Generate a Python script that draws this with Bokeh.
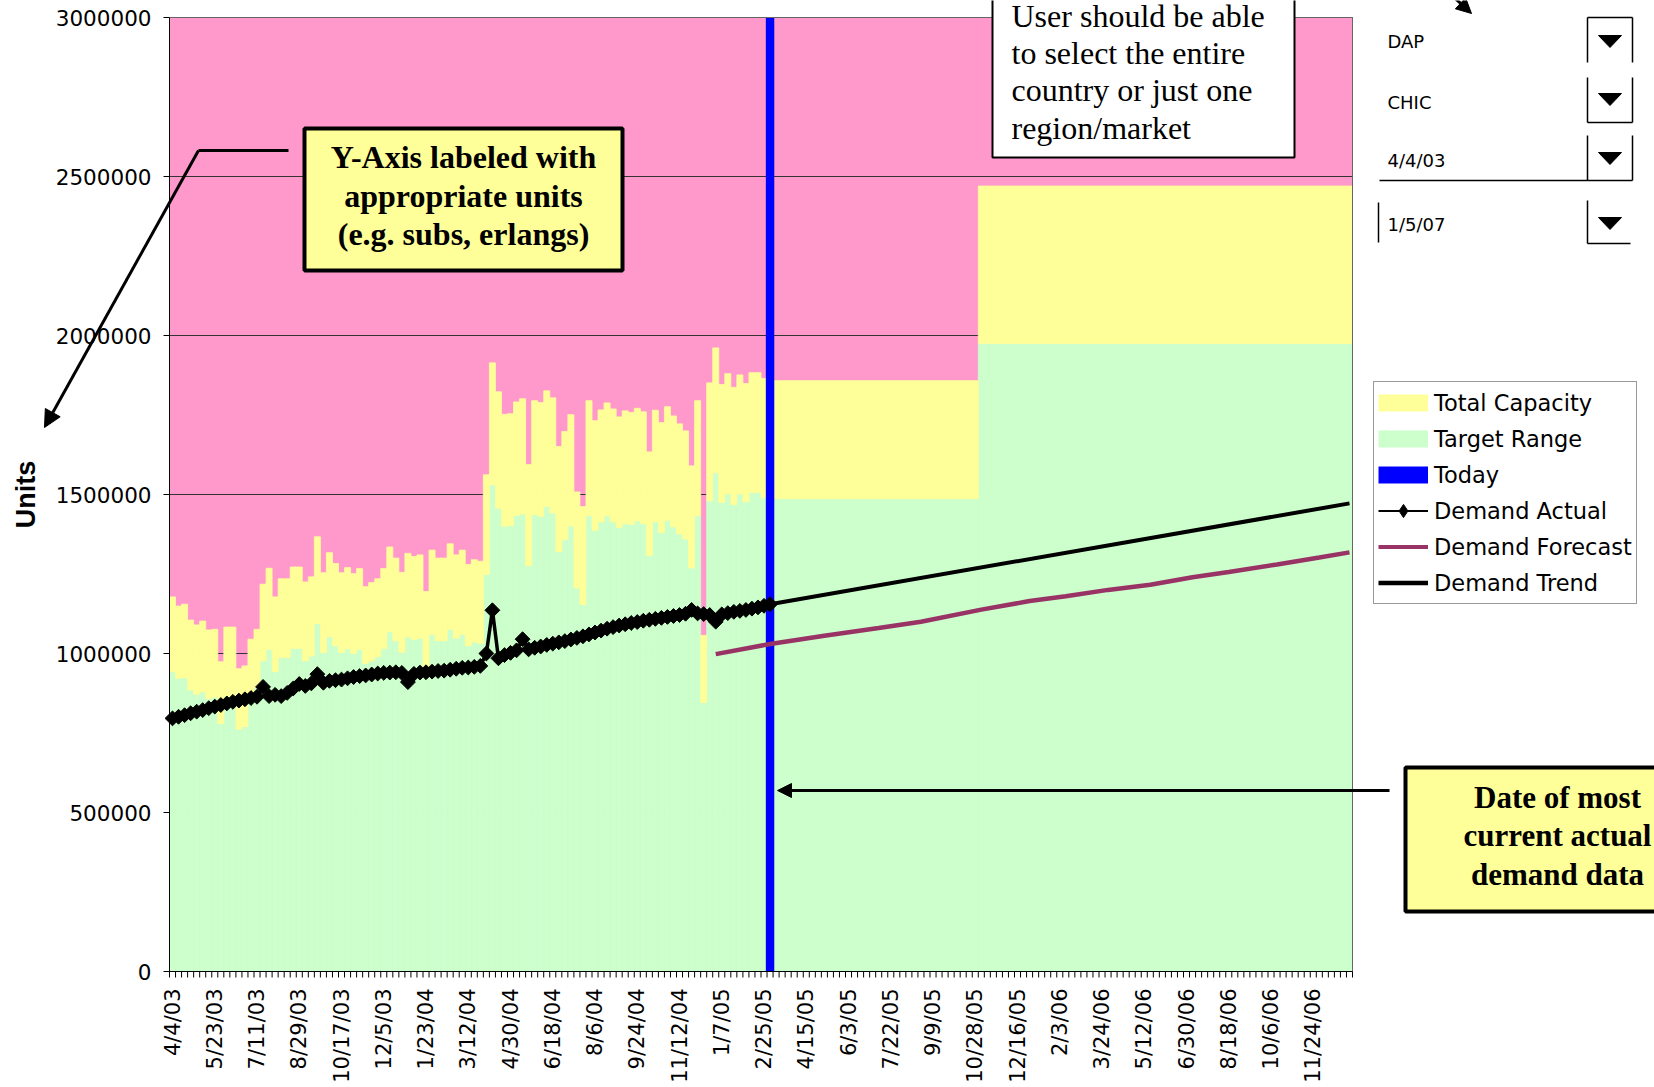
import math
from bokeh.plotting import figure
from bokeh.models import (Legend, LegendItem, Label, Arrow, NormalHead,
                          BoxAnnotation, PolyAnnotation, Range1d)
from bokeh.core.properties import value
from bokeh.embed import file_html
from bokeh.resources import INLINE

# ---------------- data ----------------
week_labels = ["4/4/03", "5/23/03", "7/11/03", "8/29/03", "10/17/03", "12/5/03",
               "1/23/04", "3/12/04", "4/30/04", "6/18/04", "8/6/04", "9/24/04",
               "11/12/04", "1/7/05", "2/25/05", "4/15/05", "6/3/05", "7/22/05",
               "9/9/05", "10/28/05", "12/16/05", "2/3/06", "3/24/06", "5/12/06",
               "6/30/06", "8/18/06", "10/6/06", "11/24/06"]
label_every = 7
n_weeks = 196

# weekly history (weeks 0..99): top of total capacity and of target range
capacity_hist = [1178000, 1149000, 1155000, 1105000, 1090000, 1102000, 1074000, 1076000, 974000, 1083000,
                 1083000, 952000, 961000, 1045000, 1076000, 1218000, 1268000, 1178000, 1235000, 1235000,
                 1272000, 1272000, 1225000, 1241000, 1367000, 1254000, 1317000, 1283000, 1254000, 1270000,
                 1251000, 1267000, 1210000, 1223000, 1235000, 1267000, 1335000, 1300000, 1255000, 1315000,
                 1305000, 1310000, 1195000, 1325000, 1300000, 1300000, 1345000, 1310000, 1325000, 1280000,
                 1295000, 1290000, 1562000, 1914000, 1823000, 1752000, 1754000, 1791000, 1801000, 1594000,
                 1795000, 1789000, 1826000, 1804000, 1651000, 1698000, 1751000, 1508000, 1462000, 1795000,
                 1732000, 1766000, 1788000, 1769000, 1744000, 1763000, 1758000, 1771000, 1760000, 1634000,
                 1765000, 1726000, 1776000, 1747000, 1722000, 1700000, 1590000, 1795000, 1057000, 1851000,
                 1961000, 1846000, 1880000, 1837000, 1876000, 1849000, 1883000, 1883000, 1865000, 1865000]
target_hist = [943000, 922000, 924000, 885000, 872000, 880000, 858000, 863000, 780000, 863000,
               863000, 762000, 770000, 870000, 893000, 977000, 1013000, 943000, 987000, 987000,
               1016000, 1016000, 977000, 992000, 1094000, 1003000, 1053000, 1024000, 1003000, 1015000,
               1000000, 1013000, 969000, 977000, 990000, 1015000, 1068000, 1040000, 1004000, 1052000,
               1044000, 1048000, 956000, 1060000, 1040000, 1040000, 1076000, 1048000, 1060000, 1024000,
               1036000, 1032000, 1249000, 1530000, 1457000, 1400000, 1402000, 1434000, 1439000, 1276000,
               1437000, 1431000, 1462000, 1442000, 1320000, 1358000, 1401000, 1206000, 1154000, 1433000,
               1387000, 1414000, 1433000, 1414000, 1396000, 1408000, 1406000, 1417000, 1408000, 1308000,
               1414000, 1380000, 1419000, 1398000, 1376000, 1360000, 1269000, 1433000, 846000, 1480000,
               1568000, 1475000, 1502000, 1468000, 1502000, 1477000, 1506000, 1506000, 1490000, 1490000]
demand_actual = [796000, 801000, 806000, 812000, 817000, 822000, 828000, 833000, 838000, 843000,
                 848000, 852000, 856000, 860000, 864000, 895000, 866000, 870000, 866000, 876000,
                 890000, 904000, 898000, 906000, 935000, 908000, 914000, 916000, 918000, 922000,
                 926000, 929000, 931000, 934000, 937000, 939000, 940000, 941000, 939000, 910000,
                 936000, 940000, 941000, 943000, 945000, 946000, 949000, 952000, 955000, 956000,
                 958000, 961000, 1000000, 1136000, 985000, 995000, 1002000, 1010000, 1045000, 1013000,
                 1018000, 1022000, 1027000, 1031000, 1035000, 1039000, 1044000, 1049000, 1054000, 1060000,
                 1066000, 1072000, 1078000, 1083000, 1088000, 1092000, 1096000, 1099000, 1103000, 1106000,
                 1109000, 1112000, 1115000, 1118000, 1121000, 1125000, 1137000, 1126000, 1124000, 1121000,
                 1100000, 1123000, 1127000, 1131000, 1134000, 1137000, 1141000, 1145000, 1150000, 1155000]

# planned capacity blocks (future)
block_start = [100, 134]
block_end = [134, 196]
block_capacity = [1858000, 2470000]
block_target = [1487000, 1975000]

today_week = 99
today_value = 3000000

forecast_week = [90, 99, 108, 117, 124, 134, 142, 148, 155, 162, 169, 175, 183, 190, 195]
forecast_value = [998000, 1030000, 1056000, 1080000, 1100000, 1138000, 1165000, 1180000,
                  1200000, 1216000, 1240000, 1256000, 1280000, 1302000, 1318000]

trend_week = [99, 195]
trend_value = [1155000, 1472000]

y_max = 3000000
y_ticks = [0, 500000, 1000000, 1500000, 2000000, 2500000, 3000000]

# ---------------- colours ----------------
PINK = "#FF99CC"
YELLOW = "#FFFF99"
GREEN = "#CCFFCC"
BLUE = "#0000FF"
PURPLE = "#993366"

# ---------------- geometry (canvas pixels of the plot area) ----------------
W, H = 1654, 1087
PX0, PX1, PY0, PY1 = 169, 1352, 17, 971
PXW = (PX1 - PX0) / n_weeks          # px per week
PXH = (PY1 - PY0) / y_max            # px per unit
XL, XR = -0.5, n_weeks - 0.5         # data edges of the plot area

p = figure(width=W, height=H, output_backend="svg", toolbar_location=None,
           x_range=Range1d(XL - PX0 / PXW, XR + (W - PX1) / PXW),
           y_range=Range1d(-(H - PY1) / PXH, y_max + PY0 / PXH),
           x_axis_location=None, y_axis_location=None, min_border=0,
           background_fill_color="white", border_fill_color="white",
           outline_line_color=None)
p.grid.visible = False

def ax(xf):
    return (xf - PX0) / PXW - 0.5

def ay(yf):
    return (PY1 - yf) / PXH

def dpx(n):   # n pixels in x data units
    return n / PXW

def dpy(n):   # n pixels in y data units
    return n / PXH

# plot area background and grid
p.quad(left=[XL], right=[XR], bottom=[0], top=[y_max], fill_color=PINK, line_color=None)
p.segment(x0=XL, x1=XR, y0=y_ticks, y1=y_ticks, line_color="#333333", line_width=1)

weeks_hist = list(range(len(capacity_hist)))
p.vbar(x=weeks_hist, width=1, bottom=0, top=target_hist,
       fill_color=GREEN, line_color=GREEN, line_width=0.8)
p.vbar(x=weeks_hist, width=1, bottom=target_hist, top=capacity_hist,
       fill_color=YELLOW, line_color=YELLOW, line_width=0.8)
p.quad(left=[b - 0.5 for b in block_start], right=[b - 0.5 for b in block_end],
       bottom=0, top=block_target, fill_color=GREEN, line_color=GREEN, line_width=0.8)
p.quad(left=[b - 0.5 for b in block_start], right=[b - 0.5 for b in block_end],
       bottom=block_target, top=block_capacity, fill_color=YELLOW, line_color=YELLOW, line_width=0.8)

p.vbar(x=[today_week], width=1.4, bottom=0, top=[today_value], fill_color=BLUE, line_color=None)

p.line(forecast_week, forecast_value, line_color=PURPLE, line_width=4.5)
p.line(trend_week, trend_value, line_color="black", line_width=4)
p.line(weeks_hist, demand_actual, line_color="black", line_width=3.5)
p.scatter(weeks_hist, demand_actual, marker="square", angle=math.pi / 4, size=10.5,
          fill_color="black", line_color="black")

# frame border and axes
p.line([XL, XR, XR], [y_max, y_max, 0], line_color="#666666", line_width=1)
p.line([XL, XL, XR], [y_max, 0, 0], line_color="black", line_width=1)
p.segment(x0=XL - dpx(6), x1=XL, y0=y_ticks, y1=y_ticks, line_color="black", line_width=1)
boundaries = [i - 0.5 for i in range(n_weeks + 1)]
p.segment(x0=boundaries, x1=boundaries, y0=0, y1=-dpy(6), line_color="black", line_width=1)

p.text(x=XL - dpx(18), y=y_ticks, text=[str(t) for t in y_ticks],
       text_align="right", text_baseline="middle", text_font=value("DejaVu Sans"),
       text_font_size=value("21.5px"), text_color="black")
xt = [i * label_every for i in range(len(week_labels))]
p.text(x=xt, y=-dpy(17), text=week_labels, angle=math.pi / 2,
       text_align="right", text_baseline="middle", text_font=value("DejaVu Sans"),
       text_font_size=value("21px"), text_color="black")
p.text(x=[ax(25)], y=[y_max / 2], text=["Units"], angle=math.pi / 2,
       text_align="center", text_baseline="middle", text_font=value("Liberation Sans"),
       text_font_style="bold", text_font_size=value("27px"), text_color="black")

# ---------------- legend ----------------
nan = float("nan")
lg_tc = p.line([nan], [nan], line_color=YELLOW, line_width=17, line_cap="butt")
lg_tr = p.line([nan], [nan], line_color=GREEN, line_width=17, line_cap="butt")
lg_td = p.line([nan], [nan], line_color=BLUE, line_width=17, line_cap="butt")
lg_al = p.line([nan], [nan], line_color="black", line_width=2)
lg_am = p.scatter([nan], [nan], marker="diamond", size=13,
                  fill_color="black", line_color="black")
lg_fc = p.line([nan], [nan], line_color=PURPLE, line_width=4, line_cap="butt")
lg_dt = p.line([nan], [nan], line_color="black", line_width=4.5, line_cap="butt")

legend = Legend(items=[
    LegendItem(label="Total Capacity", renderers=[lg_tc]),
    LegendItem(label="Target Range", renderers=[lg_tr]),
    LegendItem(label="Today", renderers=[lg_td]),
    LegendItem(label="Demand Actual", renderers=[lg_al, lg_am]),
    LegendItem(label="Demand Forecast", renderers=[lg_fc]),
    LegendItem(label="Demand Trend", renderers=[lg_dt]),
], location=(1373, 483), orientation="vertical",
    glyph_width=50, glyph_height=33, label_height=33, spacing=3, padding=4, margin=0,
    label_standoff=6, label_text_font="DejaVu Sans", label_text_font_size="22.5px",
    label_text_color="black", border_line_color="#333333", border_line_width=1.5,
    background_fill_color="white", background_fill_alpha=1)
p.add_layout(legend)

# ---------------- annotations ----------------
def seg(x0, y0, x1, y1, w=2, head=None):
    p.add_layout(Arrow(end=head, x_start=ax(x0), y_start=ay(y0), x_end=ax(x1), y_end=ay(y1),
                       line_color="black", line_width=w))

def label(xf, yf, text, size, font="Liberation Serif", bold=False, align="left"):
    p.add_layout(Label(x=ax(xf), y=ay(yf), text=text, text_align=align,
                       text_baseline="alphabetic", text_font=font,
                       text_font_style="bold" if bold else "normal",
                       text_font_size=size, text_color="black"))

def box(x0, y0, x1, y1, fill, w):
    p.add_layout(BoxAnnotation(left=ax(x0), right=ax(x1), top=ay(y0), bottom=ay(y1),
                               fill_color=fill, fill_alpha=1, line_color="black",
                               line_alpha=1, line_width=w))

def head(size):
    return NormalHead(size=size, fill_color="black", line_color="black")

# Y-axis note box and its arrow
seg(288, 150, 198, 150, 3)
seg(198, 150, 44, 427, 3, head(17))
box(304, 128, 622, 270, YELLOW, 4)
for t, yb in zip(["Y-Axis labeled with", "appropriate units", "(e.g. subs, erlangs)"], [156.5, 195, 233.5]):
    label(463, yb, t, "32px", bold=True, align="center")

# region/market note box
box(992, -40, 1294, 157, "white", 2)
for t, yb in zip(["User should be able", "to select the entire", "country or just one", "region/market"],
                 [15, 52, 89.5, 127.5]):
    label(1011, yb, t, "32px")
seg(1430, -25, 1471, 13, 3, head(15))

# Today note box and its arrow
seg(1389, 790, 777, 790, 3, head(14))
box(1405, 767, 1720, 911, YELLOW, 4)
for t, yb in zip(["Date of most", "current actual", "demand data"], [796.5, 835, 873.5]):
    label(1557, yb, t, "31px", bold=True, align="center")

# selector controls
for t, yb in zip(["DAP", "CHIC", "4/4/03", "1/5/07"], [40.5, 101.5, 159.5, 223.5]):
    label(1387, yb, t, "18px", font="DejaVu Sans")
seg(1587, 17, 1632, 17, 1.5); seg(1587, 17, 1587, 62, 1.5); seg(1632, 17, 1632, 62, 1.5)
seg(1587, 77, 1587, 122, 1.5); seg(1632, 77, 1632, 122, 1.5); seg(1587, 122, 1632, 122, 1.5)
seg(1587, 135, 1587, 180, 1.5); seg(1632, 135, 1632, 180, 1.5); seg(1379, 180, 1632, 180, 1.5)
seg(1587, 200, 1587, 243, 1.5); seg(1587, 243, 1630, 243, 1.5); seg(1378, 202, 1378, 242, 1.5)
for ytop in [35, 93, 152, 217]:
    p.add_layout(PolyAnnotation(xs=[ax(1598), ax(1621), ax(1609.5)],
                                ys=[ay(ytop), ay(ytop), ay(ytop + 12)],
                                fill_color="black", fill_alpha=1, line_color="black", line_alpha=1))

open("out.html", "w").write(file_html(p, INLINE, title="Capacity vs demand"))
